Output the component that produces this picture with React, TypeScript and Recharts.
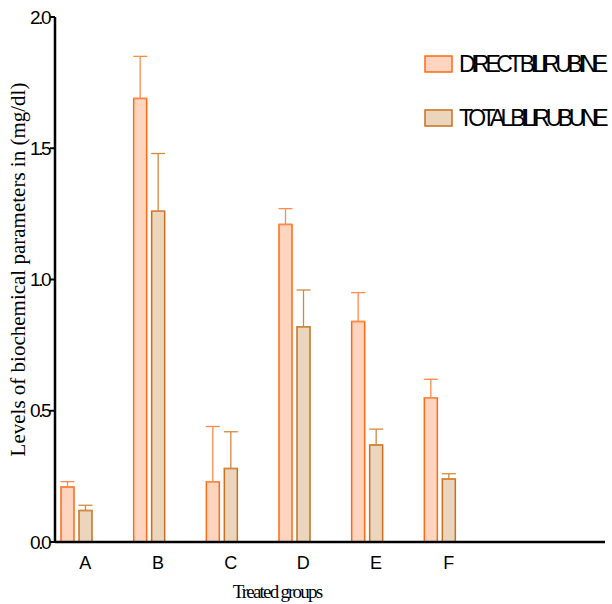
import { BarChart, Bar, XAxis, YAxis, ErrorBar, Label } from "recharts";

const groups = ["A", "B", "C", "D", "E", "F"];
const directBilirubine = [0.21, 1.69, 0.23, 1.21, 0.84, 0.55];
const directError = [0.02, 0.16, 0.21, 0.06, 0.11, 0.07];
const totalBilirubine = [0.12, 1.26, 0.28, 0.82, 0.37, 0.24];
const totalError = [0.02, 0.22, 0.14, 0.14, 0.06, 0.02];
const yTicks = [0, 0.5, 1.0, 1.5, 2.0];

const chartData = groups.map((g, i) => ({
  name: g,
  direct: directBilirubine[i],
  directErr: [0, directError[i]],
  total: totalBilirubine[i],
  totalErr: [0, totalError[i]],
}));

const legendItems = [
  { label: "DIRECT BILIRUBINE", fill: "#ffd5bf", stroke: "#ff6a14" },
  { label: "TOTAL BILIRUBUNE", fill: "#ecd5bd", stroke: "#c8701e" },
];

function LegendBox() {
  return (
    <g transform="translate(424, 55)">
      {legendItems.map((item, i) => (
        <g key={item.label} transform={`translate(0, ${i * 54})`}>
          <rect x={1} y={1} width={27} height={16} fill={item.fill} stroke={item.stroke} strokeWidth={1.5} />
          <text
            x={35}
            y={17}
            fontFamily="Liberation Sans, Arial, sans-serif"
            fontSize={23}
            letterSpacing={-4.4}
            fill="#000"
          >
            {item.label}
          </text>
        </g>
      ))}
    </g>
  );
}

export default function App() {
  return (
    <div style={{ position: "absolute", left: 0, top: 0, width: 612, height: 604, background: "#fff" }}>
      <BarChart
        width={612}
        height={604}
        data={chartData}
        margin={{ top: 17, right: 7, bottom: 22, left: 10 }}
        barSize={13}
        barGap={5}
      >
        <XAxis
          dataKey="name"
          axisLine={{ stroke: "#000", strokeWidth: 2.5 }}
          tickLine={false}
          padding={{ left: -15, right: 129 }}
          height={40}
          tick={{ fill: "#000", fontSize: 18, fontFamily: "Liberation Sans, Arial, sans-serif", dx: 9 }}
          tickMargin={8}
        >
          <Label
            value="Treated groups"
            position="insideBottom"
            offset={-16}
            dx={-53}
            fill="#000"
            fontSize={19}
            letterSpacing={-1.8}
            fontFamily="Liberation Serif, Times New Roman, serif"
          />
        </XAxis>
        <YAxis
          domain={[0, 2]}
          ticks={yTicks}
          width={45}
          tickFormatter={(v: number) => v.toFixed(1)}
          axisLine={{ stroke: "#000", strokeWidth: 2.5 }}
          tickLine={{ stroke: "#000", strokeWidth: 2 }}
          tickSize={5}
          tickMargin={1}
          tick={{ fill: "#000", fontSize: 19, letterSpacing: -2.5, fontFamily: "Liberation Sans, Arial, sans-serif" }}
        >
          <Label
            value="Levels of biochemical parameters in (mg/dl)"
            angle={-90}
            position="insideLeft"
            dx={3}
            dy={-10}
            fill="#000"
            fontSize={21}
            fontFamily="Liberation Serif, Times New Roman, serif"
            style={{ textAnchor: "middle" }}
          />
        </YAxis>
        <Bar dataKey="direct" fill="#ffd5bf" stroke="#ff6a14" strokeWidth={1.5} isAnimationActive={false}>
          <ErrorBar dataKey="directErr" direction="y" width={7} stroke="#ff8a4a" strokeWidth={1.3} />
        </Bar>
        <Bar dataKey="total" fill="#ecd5bd" stroke="#c8701e" strokeWidth={1.5} isAnimationActive={false}>
          <ErrorBar dataKey="totalErr" direction="y" width={7} stroke="#d4893f" strokeWidth={1.3} />
        </Bar>
        <LegendBox />
      </BarChart>
    </div>
  );
}
